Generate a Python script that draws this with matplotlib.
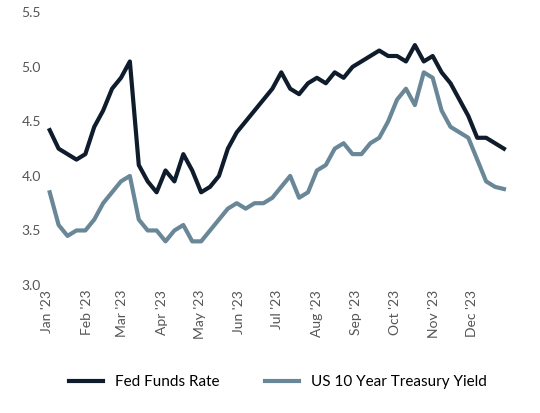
import numpy as np
import pandas as pd
import matplotlib.pyplot as plt
import matplotlib.dates as mdates

plt.rcParams['font.family'] = ['Lato', 'DejaVu Sans']

weeks = pd.date_range('2023-01-03', periods=52, freq='7D')
fed_funds = [4.42, 4.25, 4.20, 4.15, 4.20,
             4.45, 4.60, 4.80, 4.90,
             5.05, 4.10, 3.95, 3.85,
             4.05, 3.95, 4.20, 4.05,
             3.85, 3.90, 4.00, 4.25, 4.40,
             4.50, 4.60, 4.70, 4.80,
             4.95, 4.80, 4.75, 4.85,
             4.90, 4.85, 4.95, 4.90, 5.00,
             5.05, 5.10, 5.15, 5.10,
             5.10, 5.05, 5.20, 5.05, 5.10,
             4.95, 4.85, 4.70, 4.55,
             4.35, 4.35, 4.30, 4.25]
treasury = [3.85, 3.55, 3.45, 3.50, 3.50,
            3.60, 3.75, 3.85, 3.95,
            4.00, 3.60, 3.50, 3.50,
            3.40, 3.50, 3.55, 3.40,
            3.40, 3.50, 3.60, 3.70, 3.75,
            3.70, 3.75, 3.75, 3.80,
            3.90, 4.00, 3.80, 3.85,
            4.05, 4.10, 4.25, 4.30, 4.20,
            4.20, 4.30, 4.35, 4.50,
            4.70, 4.80, 4.65, 4.95, 4.90,
            4.60, 4.45, 4.40, 4.35,
            4.15, 3.95, 3.90, 3.88]

fig = plt.figure(figsize=(5.4, 4.13), dpi=100)
ax = fig.add_axes([0.085, 0.31, 0.86, 0.66])
ax.plot(weeks, fed_funds, color='#0e1c2c', lw=3, label='Fed Funds Rate')
ax.plot(weeks, treasury, color='#6a8798', lw=3, label='US 10 Year Treasury Yield')

ax.set_ylim(3.0, 5.5)
ax.set_yticks(np.arange(3.0, 5.51, 0.5))
ax.set_xlim(pd.Timestamp('2022-12-31'), pd.Timestamp('2023-12-31'))
ax.xaxis.set_major_locator(mdates.MonthLocator())
ax.xaxis.set_major_formatter(mdates.DateFormatter("%b '%y"))
plt.setp(ax.get_xticklabels(), rotation=90)
for s in ax.spines.values():
    s.set_visible(False)
ax.tick_params(length=0, labelsize=10, colors='#555555')

ax.legend(loc='upper center', bbox_to_anchor=(0.5, -0.28), ncol=2, frameon=False,
          fontsize=11, handlelength=2.2, columnspacing=3)
fig.savefig('out.png')
